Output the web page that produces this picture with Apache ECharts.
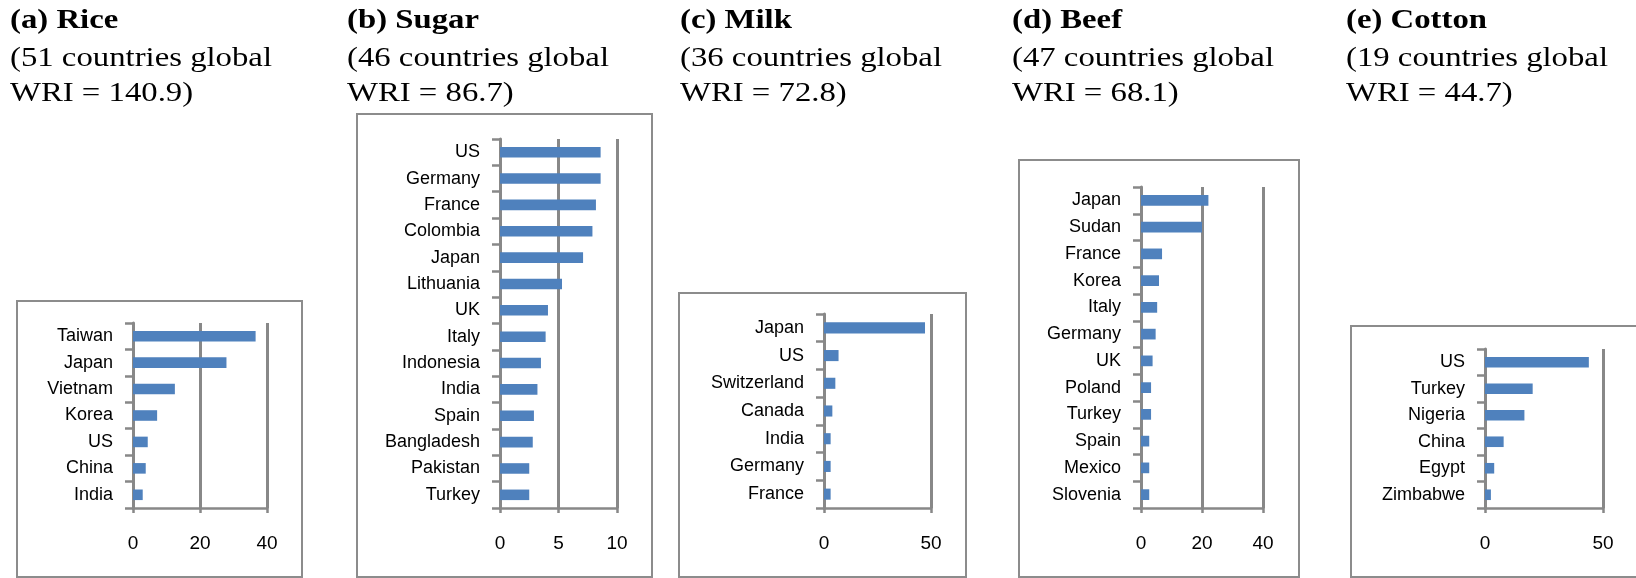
<!DOCTYPE html>
<html>
<head>
<meta charset="utf-8">
<title>WRI by commodity</title>
<script src="https://cdn.jsdelivr.net/npm/echarts@6/dist/echarts.min.js"></script>
<style>
  html, body { margin: 0; padding: 0; background: #fff; }
  #main { width: 1636px; height: 578px; }
</style>
</head>
<body>
<div id="main"></div>
<script>
// data
var riceCountries = ["Taiwan", "Japan", "Vietnam", "Korea", "US", "China", "India"];
var riceValues = [36.6, 27.9, 12.5, 7.2, 4.4, 3.8, 2.9];

var sugarCountries = ["US", "Germany", "France", "Colombia", "Japan", "Lithuania", "UK",
  "Italy", "Indonesia", "India", "Spain", "Bangladesh", "Pakistan", "Turkey"];
var sugarValues = [8.6, 8.6, 8.2, 7.9, 7.1, 5.3, 4.1, 3.9, 3.5, 3.2, 2.9, 2.8, 2.5, 2.5];

var milkCountries = ["Japan", "US", "Switzerland", "Canada", "India", "Germany", "France"];
var milkValues = [47.2, 6.8, 5.3, 3.9, 3.1, 3.1, 3.1];

var beefCountries = ["Japan", "Sudan", "France", "Korea", "Italy", "Germany", "UK",
  "Poland", "Turkey", "Spain", "Mexico", "Slovenia"];
var beefValues = [22.1, 20.0, 6.9, 5.9, 5.3, 4.8, 3.8, 3.3, 3.3, 2.7, 2.7, 2.7];

var cottonCountries = ["US", "Turkey", "Nigeria", "China", "Egypt", "Zimbabwe"];
var cottonValues = [44.0, 20.2, 16.7, 7.9, 3.9, 2.5];

var titles = ["(a) Rice", "(b) Sugar", "(c) Milk", "(d) Beef", "(e) Cotton"];
var subtitles = ["(51 countries global", "(46 countries global", "(36 countries global",
  "(47 countries global", "(19 countries global"];
var wriLines = ["WRI = 140.9)", "WRI = 86.7)", "WRI = 72.8)", "WRI = 68.1)", "WRI = 44.7)"];

var axisMax = [40, 10, 50, 40, 50];
var axisStep = [20, 5, 50, 20, 50];

// layout (px)
var grids = [
  { left: 133, top: 323, width: 134, height: 185 },
  { left: 500, top: 139, width: 117, height: 369 },
  { left: 824, top: 314, width: 107, height: 194 },
  { left: 1141, top: 187, width: 122, height: 321 },
  { left: 1485, top: 349, width: 118, height: 159 }
];
var boxes = [
  [17, 301, 285, 276],
  [357, 114, 295, 463],
  [679, 293, 287, 284],
  [1019, 160, 280, 417],
  [1351, 326, 300, 251]
];
var titleX = [10, 347, 680, 1012, 1346];
var titleY = [21, 59, 94];

var countries = [riceCountries, sugarCountries, milkCountries, beefCountries, cottonCountries];
var values = [riceValues, sugarValues, milkValues, beefValues, cottonValues];

var gray = "#888888";
var chart = echarts.init(document.getElementById("main"));

var option = {
  animation: false,
  grid: [],
  xAxis: [],
  yAxis: [],
  series: [],
  graphic: []
};

for (var i = 0; i < 5; i++) {
  option.grid.push({
    left: grids[i].left, top: grids[i].top,
    width: grids[i].width, height: grids[i].height,
    containLabel: false, outerBoundsMode: "none"
  });
  option.xAxis.push({
    type: "value", gridIndex: i,
    min: 0, max: axisMax[i], interval: axisStep[i],
    axisLine: { show: true, lineStyle: { color: gray, width: 2.5 } },
    axisTick: { show: true, length: 5, lineStyle: { color: gray, width: 2.5 } },
    splitLine: { show: true, lineStyle: { color: gray, width: 3 } },
    axisLabel: { color: "#000", fontSize: 19, fontFamily: "Liberation Sans", margin: 26 }
  });
  option.yAxis.push({
    type: "category", gridIndex: i, inverse: true,
    data: countries[i],
    axisLine: { show: true, lineStyle: { color: gray, width: 3 } },
    axisTick: { show: true, length: 8, lineStyle: { color: gray, width: 2.5 } },
    axisLabel: { color: "#000", fontSize: 18, fontFamily: "Liberation Sans", margin: 20 }
  });
  option.series.push({
    type: "bar", xAxisIndex: i, yAxisIndex: i,
    data: values[i],
    barWidth: "40%",
    itemStyle: { color: "#4f81bd" }
  });

  // frame round each panel
  option.graphic.push({
    type: "rect", silent: true,
    shape: { x: boxes[i][0], y: boxes[i][1], width: boxes[i][2], height: boxes[i][3] },
    style: { fill: "none", stroke: "#8c8c8c", lineWidth: 2 }
  });

  // three-line heading, a bit wide like the source figure
  var lines = [titles[i], subtitles[i], wriLines[i]];
  for (var k = 0; k < 3; k++) {
    option.graphic.push({
      type: "text", silent: true,
      x: titleX[i], y: titleY[k], scaleX: 1.17,
      style: {
        text: lines[k],
        fontFamily: "Liberation Serif",
        fontSize: 28,
        fontWeight: k === 0 ? "bold" : "normal",
        fill: "#000",
        verticalAlign: "middle"
      }
    });
  }
}

chart.setOption(option);
</script>
</body>
</html>
